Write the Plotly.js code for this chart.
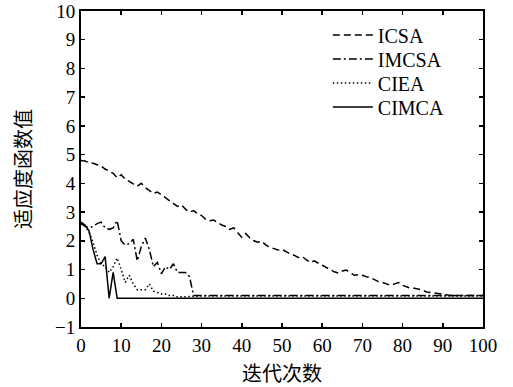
<!DOCTYPE html>
<html>
<head>
<meta charset="utf-8">
<script src="https://cdn.plot.ly/plotly-3.0.1.min.js"></script>
<style>html,body{margin:0;padding:0;background:#fff;}#chart{width:513px;height:387px;}</style>
</head>
<body>
<div id="chart"></div>
<script>
// iteration index 0..100
const iterations = Array.from({length: 101}, (_, i) => i);

const seriesNames = ["ICSA", "IMCSA", "CIEA", "CIMCA"];

const icsa = [
  4.80, 4.78, 4.72, 4.70, 4.65, 4.60, 4.50, 4.42, 4.35, 4.20,
  4.30, 4.15, 4.05, 3.98, 3.90, 4.00, 3.85, 3.75, 3.65, 3.70,
  3.60, 3.50, 3.40, 3.30, 3.20, 3.25, 3.10, 3.00, 3.05, 2.95,
  2.88, 2.75, 2.70, 2.72, 2.62, 2.55, 2.50, 2.40, 2.45, 2.30,
  2.12, 2.25, 2.10, 2.00, 1.95, 1.98, 1.85, 1.78, 1.72, 1.68,
  1.70, 1.62, 1.55, 1.50, 1.42, 1.45, 1.35, 1.25, 1.30, 1.22,
  1.15, 1.08, 1.00, 0.92, 0.88, 0.95, 0.98, 0.88, 0.80, 0.82,
  0.80, 0.75, 0.72, 0.65, 0.58, 0.55, 0.50, 0.45, 0.50, 0.55,
  0.45, 0.40, 0.35, 0.35, 0.32, 0.28, 0.22, 0.20, 0.17, 0.15,
  0.14, 0.12, 0.10, 0.10, 0.10, 0.10, 0.10, 0.10, 0.10, 0.10,
  0.10
];

const imcsa = [
  2.60, 2.50, 2.45, 2.50, 2.60, 2.65, 2.45, 2.40, 2.45, 2.70,
  2.00, 1.85, 1.90, 2.05, 1.30, 1.80, 2.10, 1.70, 1.10, 1.25,
  0.85, 1.10, 1.00, 1.20, 0.90, 0.90, 0.90, 0.75, 0.10, 0.10,
  0.10, 0.10, 0.10, 0.10, 0.10, 0.10, 0.10, 0.10, 0.10, 0.10,
  0.10, 0.10, 0.10, 0.10, 0.10, 0.10, 0.10, 0.10, 0.10, 0.10,
  0.10, 0.10, 0.10, 0.10, 0.10, 0.10, 0.10, 0.10, 0.10, 0.10,
  0.10, 0.10, 0.10, 0.10, 0.10, 0.10, 0.10, 0.10, 0.10, 0.10,
  0.10, 0.10, 0.10, 0.10, 0.10, 0.10, 0.10, 0.10, 0.10, 0.10,
  0.10, 0.10, 0.10, 0.10, 0.10, 0.10, 0.10, 0.10, 0.10, 0.10,
  0.10, 0.10, 0.10, 0.10, 0.10, 0.10, 0.10, 0.10, 0.10, 0.10,
  0.10
];

const ciea = [
  2.60, 2.50, 2.30, 1.95, 1.50, 1.20, 1.10, 0.90, 1.10, 1.40,
  1.00, 0.55, 0.80, 0.50, 0.30, 0.30, 0.30, 0.50, 0.25, 0.20,
  0.15, 0.15, 0.10, 0.10, 0.05, 0.05, 0.06, 0.07, 0.08, 0.08,
  0.08, 0.08, 0.08, 0.08, 0.08, 0.08, 0.08, 0.08, 0.08, 0.08,
  0.08, 0.08, 0.08, 0.08, 0.08, 0.08, 0.08, 0.08, 0.08, 0.08,
  0.08, 0.08, 0.08, 0.08, 0.08, 0.08, 0.08, 0.08, 0.08, 0.08,
  0.08, 0.08, 0.08, 0.08, 0.08, 0.08, 0.08, 0.08, 0.08, 0.08,
  0.08, 0.08, 0.08, 0.08, 0.08, 0.08, 0.08, 0.08, 0.08, 0.08,
  0.08, 0.08, 0.08, 0.08, 0.08, 0.08, 0.08, 0.08, 0.08, 0.08,
  0.08, 0.08, 0.08, 0.08, 0.08, 0.08, 0.08, 0.08, 0.08, 0.08,
  0.08
];

const cimca = [
  2.65, 2.55, 2.35, 1.70, 1.20, 1.20, 1.45, 0.00, 0.90, 0.00,
  0.00, 0.00, 0.00, 0.00, 0.00, 0.00, 0.00, 0.00, 0.00, 0.00,
  0.00, 0.00, 0.00, 0.00, 0.00, 0.00, 0.00, 0.00, 0.00, 0.00,
  0.00, 0.00, 0.00, 0.00, 0.00, 0.00, 0.00, 0.00, 0.00, 0.00,
  0.00, 0.00, 0.00, 0.00, 0.00, 0.00, 0.00, 0.00, 0.00, 0.00,
  0.00, 0.00, 0.00, 0.00, 0.00, 0.00, 0.00, 0.00, 0.00, 0.00,
  0.00, 0.00, 0.00, 0.00, 0.00, 0.00, 0.00, 0.00, 0.00, 0.00,
  0.00, 0.00, 0.00, 0.00, 0.00, 0.00, 0.00, 0.00, 0.00, 0.00,
  0.00, 0.00, 0.00, 0.00, 0.00, 0.00, 0.00, 0.00, 0.00, 0.00,
  0.00, 0.00, 0.00, 0.00, 0.00, 0.00, 0.00, 0.00, 0.00, 0.00,
  0.00
];

const xTicks = [0, 10, 20, 30, 40, 50, 60, 70, 80, 90, 100];
const yTicks = [-1, 0, 1, 2, 3, 4, 5, 6, 7, 8, 9, 10];

const seriesData = [icsa, imcsa, ciea, cimca];
const dashes = ["7px,4px", "8px,3px,2px,3px", "1.5px,2.5px", "solid"];
const legendIds = ["legend", "legend2", "legend3", "legend4"];
const legendRowY = [0.924, 0.848, 0.772, 0.696];

const serif = "Liberation Serif";
const cjk = "Noto Sans CJK SC";

const traces = seriesData.map((ys, k) => ({
  x: iterations,
  y: ys,
  type: "scatter",
  mode: "lines",
  name: seriesNames[k],
  legend: legendIds[k],
  line: {color: "#000", width: 1.5, dash: dashes[k]}
}));

const layout = {
  width: 513,
  height: 387,
  margin: {l: 81, r: 30, t: 11, b: 60},
  paper_bgcolor: "#fff",
  plot_bgcolor: "#fff",
  font: {family: serif, size: 19, color: "#000"},
  showlegend: true,
  xaxis: {
    range: [0, 100],
    tickmode: "array",
    tickvals: xTicks,
    ticks: "inside",
    ticklen: 4,
    tickwidth: 1.5,
    tickcolor: "#000",
    showline: true,
    linecolor: "#000",
    linewidth: 2,
    mirror: "ticks",
    showgrid: false,
    zeroline: false,
    tickfont: {family: serif, size: 19, color: "#000"},
    title: {text: "迭代次数", font: {family: cjk, size: 20, color: "#000"}, standoff: 18}
  },
  yaxis: {
    range: [-1, 10],
    tickmode: "array",
    tickvals: yTicks,
    ticks: "inside",
    ticklen: 4,
    tickwidth: 1.5,
    tickcolor: "#000",
    showline: true,
    linecolor: "#000",
    linewidth: 2,
    mirror: "ticks",
    showgrid: false,
    zeroline: false,
    tickfont: {family: serif, size: 19, color: "#000"},
    title: {text: "适应度函数值", font: {family: cjk, size: 20, color: "#000"}, standoff: 18}
  }
};

legendIds.forEach((id, k) => {
  layout[id] = {
    x: 0.614, y: legendRowY[k], xanchor: "left", yanchor: "middle",
    bgcolor: "rgba(0,0,0,0)",
    font: {family: serif, size: 20, color: "#000"},
    itemwidth: 40
  };
});

Plotly.newPlot("chart", traces, layout, {displayModeBar: false, staticPlot: true});
</script>
</body>
</html>
